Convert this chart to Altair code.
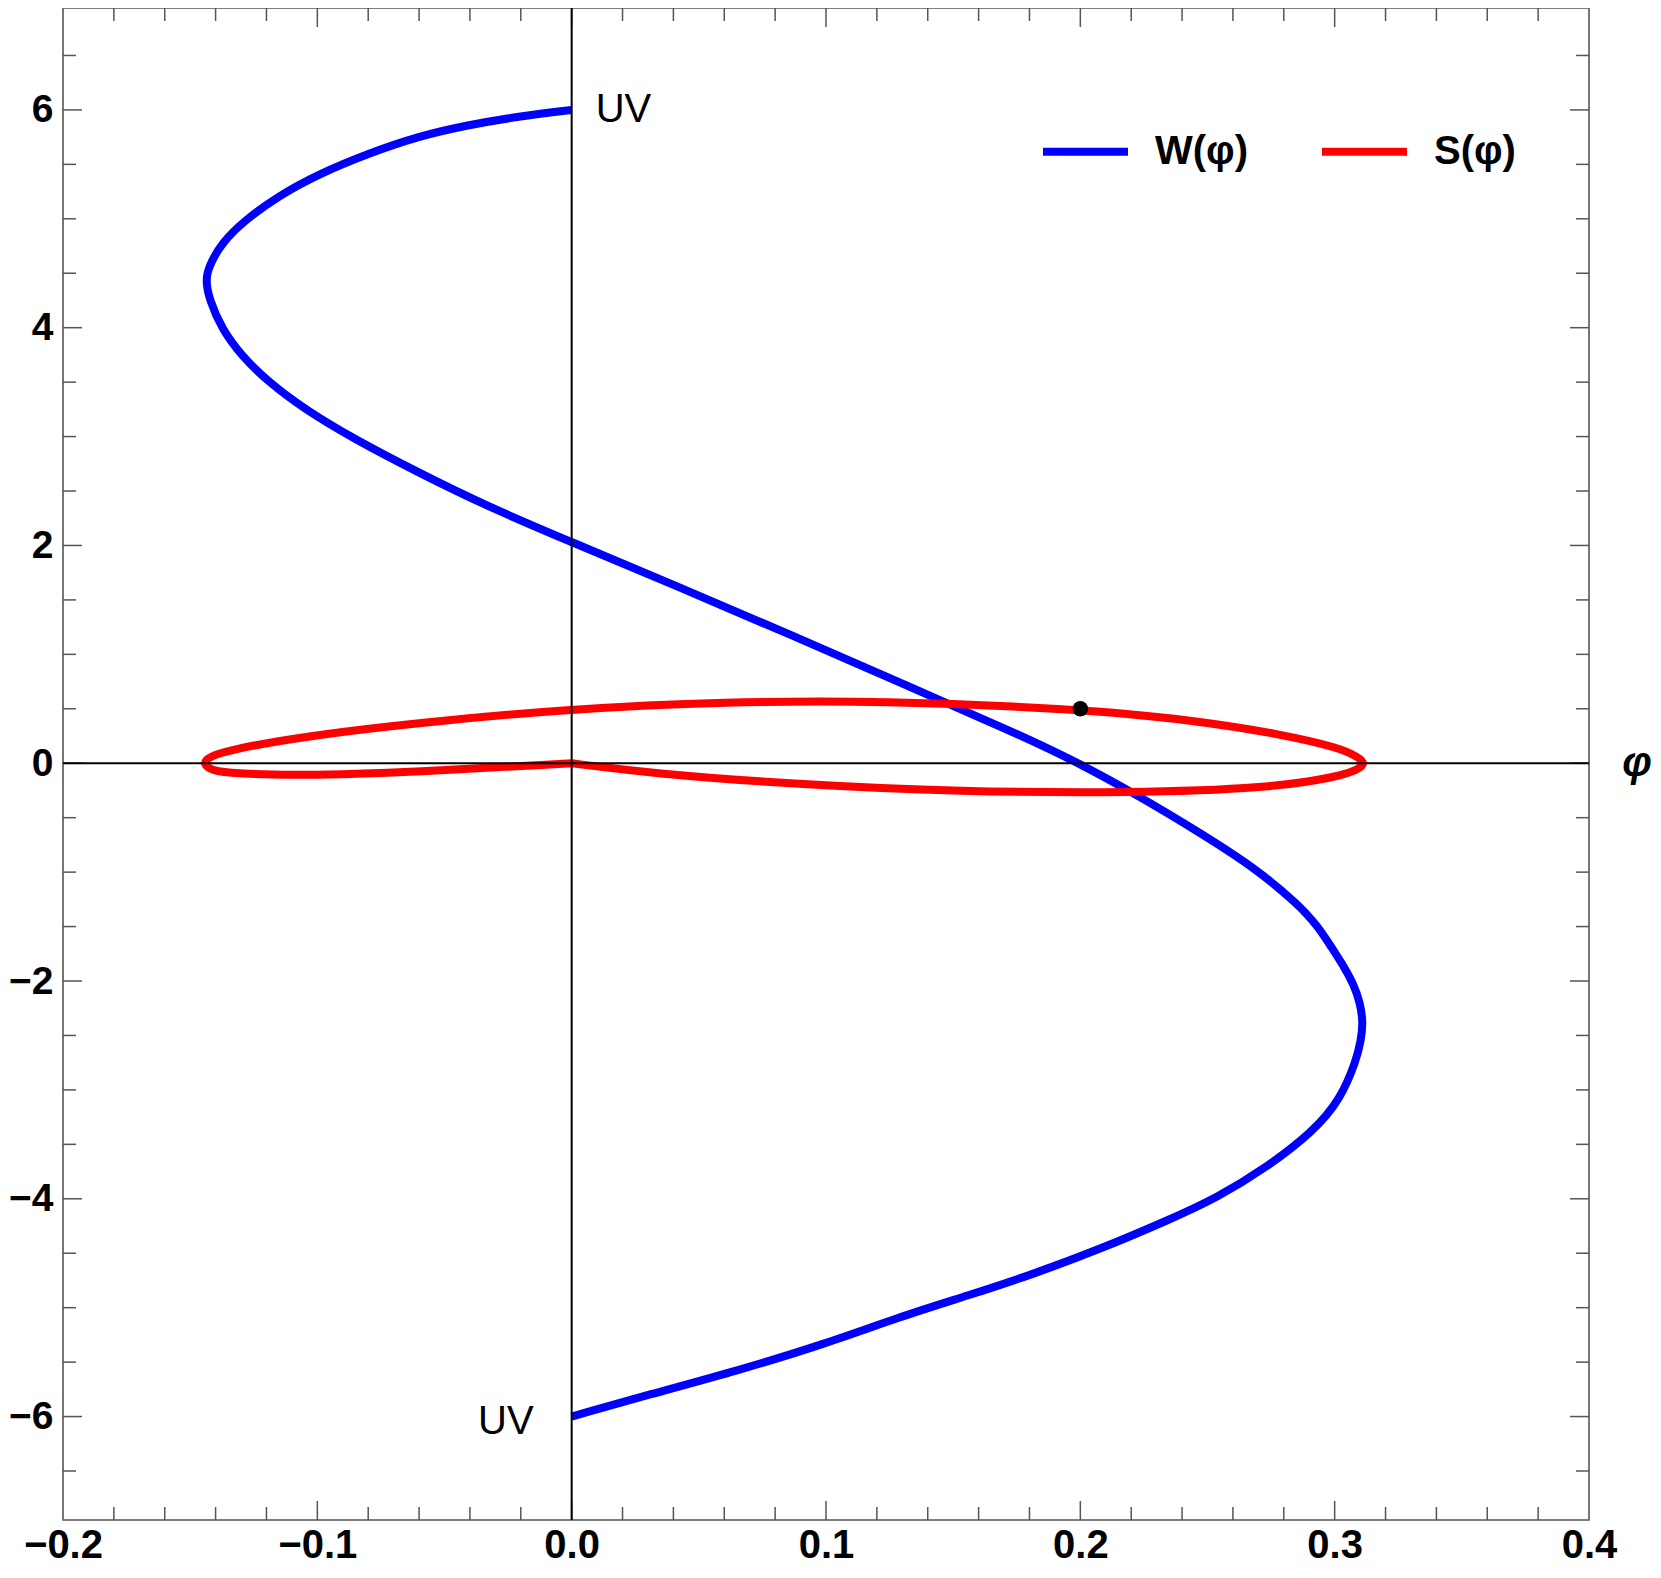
import altair as alt
import pandas as pd

# ---------------- data ----------------
# Blue curve W(phi): (phi, value) points, from the upper UV point to the lower UV point
W_phi = [0.0, -0.021, -0.041, -0.060, -0.080, -0.0996, -0.1153, -0.1284, -0.1376, -0.1425,
         -0.1440, -0.1425, -0.1376, -0.1297, -0.1192, -0.1049, -0.0865, -0.0603, -0.0342, 0.0,
         0.041, 0.0861, 0.1312, 0.1763, 0.1996, 0.2237, 0.2472, 0.2680, 0.2855, 0.2935,
         0.2990, 0.3032, 0.3075, 0.3100, 0.3112, 0.3103, 0.3085, 0.3022, 0.2917, 0.2734,
         0.2538, 0.2342, 0.208, 0.1818, 0.1556, 0.1294, 0.100, 0.065, 0.030, 0.0]
W_val = [6.0, 5.94, 5.86, 5.76, 5.60, 5.41, 5.21, 4.99, 4.78, 4.57,
         4.44, 4.26, 3.99, 3.74, 3.50, 3.25, 2.99, 2.67, 2.37, 2.03,
         1.63, 1.18, 0.72, 0.26, 0.0, -0.31, -0.64, -0.95, -1.29, -1.50,
         -1.70, -1.85, -2.03, -2.20, -2.38, -2.55, -2.73, -3.09, -3.38, -3.71,
         -3.99, -4.20, -4.46, -4.69, -4.89, -5.08, -5.33, -5.58, -5.80, -6.0]

# Red closed curve S(phi): starts and ends at the origin
S_phi = [0.0, 0.030, 0.0911, 0.1523, 0.2195, 0.2745, 0.302, 0.3090, 0.3122, 0.3090,
         0.302, 0.2806, 0.2439, 0.198, 0.1217, 0.0606, -0.0005, -0.0616, -0.1075, -0.135,
         -0.1425, -0.1450, -0.1425, -0.138, -0.1075, -0.0616, 0.0]
S_val = [0.0, -0.09, -0.20, -0.26, -0.275, -0.23, -0.12, -0.06, 0.0, 0.06,
         0.14, 0.26, 0.40, 0.50, 0.575, 0.565, 0.50, 0.37, 0.24, 0.12,
         0.06, 0.0, -0.05, -0.09, -0.115, -0.08, 0.0]

dot_phi = [0.2]
dot_val = [0.5]

uv_phi = [0.0, 0.0]
uv_val = [6.0, -6.0]
uv_text = ["UV", "UV"]

axis_label_phi = [0.4]
axis_label_val = [0.0]
axis_label_text = ["φ"]

series_names = ["W(φ)", "S(φ)"]
series_colors = ["#0000ff", "#ff0000"]

x_label_values = [-0.2, -0.1, 0.0, 0.1, 0.2, 0.3, 0.4]
y_label_values = [-6, -4, -2, 0, 2, 4, 6]
x_major_ticks = [-0.1, 0.0, 0.1, 0.2, 0.3]
x_minor_ticks = [-0.18, -0.16, -0.14, -0.12, -0.08, -0.06, -0.04, -0.02,
                 0.02, 0.04, 0.06, 0.08, 0.12, 0.14, 0.16, 0.18,
                 0.22, 0.24, 0.26, 0.28, 0.32, 0.34, 0.36, 0.38]
y_major_ticks = [-6, -4, -2, 0, 2, 4, 6]
y_minor_ticks = [-6.5, -5.5, -5, -4.5, -3.5, -3, -2.5, -1.5, -1, -0.5,
                 0.5, 1, 1.5, 2.5, 3, 3.5, 4.5, 5, 5.5, 6.5]

# ---------------- layout / style ----------------
PW, PH = 1526, 1512
MAJ, MIN = 19, 13
TICK_COLOR = "#555555"
FONT = "Liberation Sans"

xs = alt.Scale(domain=[-0.2, 0.4], nice=False, zero=False)
ys = alt.Scale(domain=[-6.95, 6.936], nice=False, zero=False)

x_axis = alt.Axis(values=x_label_values, format=".1f", ticks=False, tickSize=0, domain=False,
                  grid=False, labelFont=FONT, labelFontWeight="bold", labelFontSize=40,
                  labelColor="black", labelPadding=5, labelFlush=False, labelOverlap=False,
                  labelBound=False, title=None)
y_axis = alt.Axis(values=y_label_values, format="d", ticks=False, tickSize=0, domain=False,
                  grid=False, labelFont=FONT, labelFontWeight="bold", labelFontSize=39,
                  labelColor="black", labelPadding=10, labelFlush=False, labelOverlap=False,
                  labelBound=False, title=None)


def X(f):
    return alt.X(f"{f}:Q", scale=xs, axis=x_axis)


def Y(f):
    return alt.Y(f"{f}:Q", scale=ys, axis=y_axis)


color = alt.Color(
    "series:N",
    scale=alt.Scale(domain=series_names, range=series_colors),
    legend=alt.Legend(orient="none", legendX=976, legendY=97, direction="horizontal",
                      title=None, symbolType="stroke", symbolStrokeWidth=8, symbolSize=7225,
                      labelFont=FONT, labelFontWeight="bold", labelFontSize=40,
                      labelColor="black", labelOffset=23, columnPadding=57, padding=0,
                      labelLimit=0),
)

W_df = pd.DataFrame({"phi": W_phi, "val": W_val, "i": list(range(len(W_phi))), "series": series_names[0]})
S_df = pd.DataFrame({"phi": S_phi, "val": S_val, "i": list(range(len(S_phi))), "series": series_names[1]})

w_line = alt.Chart(W_df).mark_line(strokeWidth=8, interpolate="basis", strokeCap="butt").encode(
    x=X("phi"), y=Y("val"), order="i:Q", color=color)
s_line = alt.Chart(S_df).mark_line(strokeWidth=8, interpolate="basis", strokeCap="butt").encode(
    x=X("phi"), y=Y("val"), order="i:Q", color=color)


def xticks(vals, length, side):
    d = pd.DataFrame({"v": vals})
    if side == "bottom":
        yy, yy2 = alt.value(PH), alt.value(PH - length)
    else:
        yy, yy2 = alt.value(0), alt.value(length)
    return alt.Chart(d).mark_rule(color=TICK_COLOR, strokeWidth=1.5).encode(x=X("v"), y=yy, y2=yy2)


def yticks(vals, length, side):
    d = pd.DataFrame({"v": vals})
    if side == "left":
        xx, xx2 = alt.value(0), alt.value(length)
    else:
        xx, xx2 = alt.value(PW), alt.value(PW - length)
    return alt.Chart(d).mark_rule(color=TICK_COLOR, strokeWidth=1.5).encode(y=Y("v"), x=xx, x2=xx2)


ticks = [
    xticks(x_major_ticks, MAJ, "bottom"), xticks(x_minor_ticks, MIN, "bottom"),
    xticks(x_major_ticks, MAJ, "top"), xticks(x_minor_ticks, MIN, "top"),
    yticks(y_major_ticks, MAJ, "left"), yticks(y_minor_ticks, MIN, "left"),
    yticks(y_major_ticks, MAJ, "right"), yticks(y_minor_ticks, MIN, "right"),
]

zero_v = alt.Chart(pd.DataFrame({"v": [0.0]})).mark_rule(color="black", strokeWidth=2).encode(x=X("v"))
zero_h = alt.Chart(pd.DataFrame({"v": [0.0]})).mark_rule(color="black", strokeWidth=2).encode(y=Y("v"))

dot = alt.Chart(pd.DataFrame({"phi": dot_phi, "val": dot_val})).mark_circle(
    size=240, color="black", opacity=1).encode(x=X("phi"), y=Y("val"))

uv_df = pd.DataFrame({"phi": uv_phi, "val": uv_val, "label": uv_text})
uv_top = alt.Chart(uv_df.iloc[[0]]).mark_text(
    align="left", baseline="middle", dx=24, dy=0, font=FONT, fontSize=40, color="black").encode(
    x=X("phi"), y=Y("val"), text="label:N")
uv_bot = alt.Chart(uv_df.iloc[[1]]).mark_text(
    align="right", baseline="middle", dx=-38, dy=5, font=FONT, fontSize=40, color="black").encode(
    x=X("phi"), y=Y("val"), text="label:N")

phi_lbl = alt.Chart(pd.DataFrame({"phi": axis_label_phi, "val": axis_label_val, "label": axis_label_text})).mark_text(
    align="center", baseline="middle", dx=48, dy=0, font=FONT, fontSize=42, fontWeight="bold",
    fontStyle="italic", color="black").encode(x=X("phi"), y=Y("val"), text="label:N")

chart = alt.layer(
    *ticks, w_line, s_line, zero_v, zero_h, dot, uv_top, uv_bot, phi_lbl
).properties(
    width=PW, height=PH,
    autosize=alt.AutoSizeParams(type="none"),
    padding={"left": 55, "top": 0, "right": 64, "bottom": 46},
    background="white",
).configure_view(stroke="#555555", strokeWidth=1.6)

chart.save("out.html", embed_options={"renderer": "svg", "actions": False})
